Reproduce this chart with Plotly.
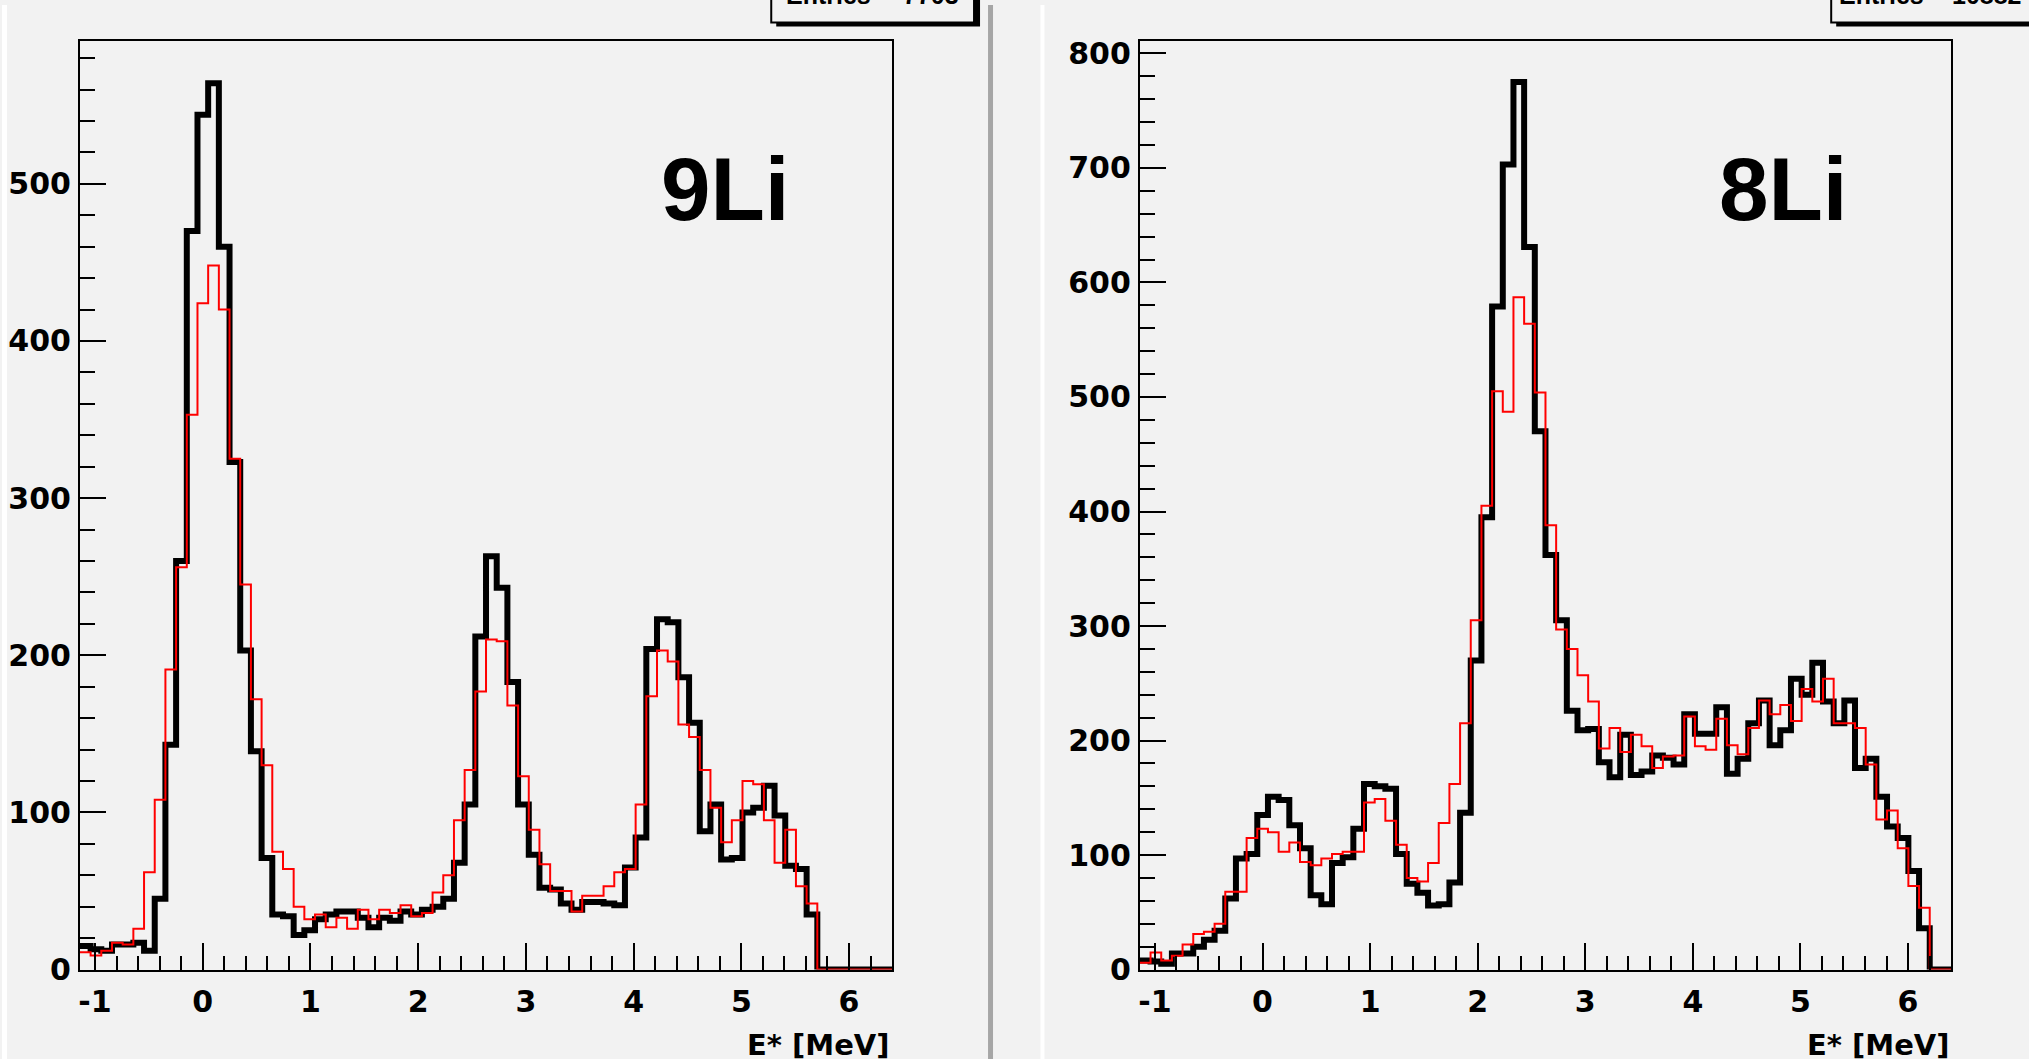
import numpy as np
import plotly.graph_objects as go

# ---------------- data ----------------
x_min, x_max, n_bins = -1.14, 6.40, 76

li9_black = [15, 13, 12, 16, 16, 17, 12, 45, 143, 260,
             470, 544, 564, 460, 323, 203, 139, 71, 35, 34,
             22, 25, 32, 35, 37, 37, 33, 27, 33, 31,
             37, 35, 38, 40, 45, 68, 105, 212, 263, 243,
             183, 105, 73, 52, 51, 42, 38, 43, 43, 42,
             41, 65, 84, 204, 223, 221, 186, 157, 88, 105,
             70, 71, 100, 103, 117, 98, 66, 64, 35, 0,
             0, 0, 0, 0, 0, 0]
li9_red = [11, 9, 12, 17, 16, 26, 62, 108, 191, 256,
           353, 424, 448, 420, 325, 245, 172, 130, 75, 64,
           40, 32, 35, 27, 33, 26, 38, 32, 38, 36,
           41, 34, 36, 49, 60, 95, 127, 177, 210, 209,
           168, 123, 89, 67, 50, 50, 37, 47, 47, 53,
           62, 64, 105, 174, 203, 196, 156, 148, 127, 103,
           81, 95, 120, 118, 95, 68, 89, 53, 42, 0,
           0, 0, 0, 0, 0, 0]
li8_black = [8, 7, 5, 14, 14, 20, 26, 34, 62, 97,
             101, 135, 151, 148, 126, 106, 65, 57, 93, 98,
             123, 162, 160, 158, 101, 75, 67, 56, 57, 76,
             137, 270, 395, 579, 703, 775, 631, 470, 362, 305,
             226, 209, 210, 181, 168, 205, 170, 173, 187, 185,
             179, 223, 206, 206, 229, 171, 184, 215, 235, 196,
             209, 254, 240, 268, 234, 215, 235, 176, 184, 151,
             125, 115, 86, 36, 0, 0]
li8_red = [6, 15, 8, 12, 22, 31, 33, 40, 68, 68,
           115, 123, 120, 103, 111, 94, 91, 97, 101, 103,
           103, 146, 149, 130, 109, 80, 77, 93, 128, 162,
           215, 305, 405, 505, 487, 587, 564, 504, 388, 297,
           280, 257, 234, 193, 211, 190, 205, 195, 176, 186,
           187, 221, 195, 192, 219, 196, 188, 211, 235, 223,
           231, 217, 245, 234, 254, 215, 215, 211, 179, 131,
           139, 106, 73, 54, 0, 0]

x_tick_vals = [-1, 0, 1, 2, 3, 4, 5, 6]
x_tick_text = ["-1", "0", "1", "2", "3", "4", "5", "6"]
y_max_left, y_max_right = 591, 811
panel_labels = ["9Li", "8Li"]
x_title = "E* [MeV]"
entries = ["7703", "10882"]

# ---------------- layout helpers ----------------
W, H = 2029, 1084
BG = "#f2f2f2"
def fx(p):
    return p / W
def fy(p):
    return 1 - p / H

edges = np.linspace(x_min, x_max, n_bins + 1)

fig = go.Figure()
for vals, col, lw, xa, ya in [
    (li9_black, "black", 6, "x", "y"),
    (li9_red, "#ff0000", 2, "x", "y"),
    (li8_black, "black", 6, "x2", "y2"),
    (li8_red, "#ff0000", 2, "x2", "y2"),
]:
    fig.add_trace(go.Scatter(
        x=edges, y=list(vals) + [vals[-1]], mode="lines",
        line=dict(color=col, width=lw, shape="hv"),
        xaxis=xa, yaxis=ya, hoverinfo="skip", showlegend=False))

tick_font = dict(family="DejaVu Sans", size=30, color="black", weight="bold")
common = dict(showline=True, linecolor="black", linewidth=2, mirror=True,
              ticks="inside", tickcolor="black", tickwidth=2,
              showgrid=False, zeroline=False, tickfont=tick_font)

ydom = [fy(985.5), fy(36.6)]
xaxis_common = dict(range=[x_min, x_max], tickmode="array", tickvals=x_tick_vals,
                    ticktext=x_tick_text, ticklen=27, ticklabelstandoff=4,
                    minor=dict(dtick=0.2, tick0=0, ticks="inside", ticklen=14,
                               tickwidth=2, tickcolor="black"), **common)
yaxis_common = dict(tick0=0, dtick=100, ticklen=26, ticklabelstandoff=1,
                    minor=dict(dtick=20, tick0=0, ticks="inside", ticklen=15,
                               tickwidth=2, tickcolor="black"), **common)

fig.update_layout(
    width=W, height=H, autosize=False, margin=dict(l=0, r=0, t=0, b=0, pad=0),
    paper_bgcolor=BG, plot_bgcolor=BG, showlegend=False,
    xaxis=dict(domain=[fx(78), fx(891)], anchor="y", **xaxis_common),
    yaxis=dict(domain=ydom, anchor="x", range=[0, y_max_left], **yaxis_common),
    xaxis2=dict(domain=[fx(1139), fx(1951)], anchor="y2", **xaxis_common),
    yaxis2=dict(domain=ydom, anchor="x2", range=[0, y_max_right], **yaxis_common),
)

shapes = []
for x0, x1 in [(770, 973), (1831, 2060)]:
    shapes.append(dict(type="rect", xref="paper", yref="paper",
                       x0=fx(x0 + 5), x1=fx(x1 + 6), y0=fy(22), y1=fy(-10),
                       fillcolor="black", line=dict(width=0)))
    shapes.append(dict(type="rect", xref="paper", yref="paper",
                       x0=fx(x0), x1=fx(x1), y0=fy(18), y1=fy(-10),
                       fillcolor=BG, line=dict(color="black", width=2)))
shapes.append(dict(type="line", xref="paper", yref="paper", x0=fx(989.5), x1=fx(989.5),
                   y0=0, y1=1, line=dict(color="#a6a6a6", width=5)))
shapes.append(dict(type="line", xref="paper", yref="paper", x0=fx(1041.5), x1=fx(1041.5),
                   y0=0, y1=1, line=dict(color="white", width=4)))
shapes.append(dict(type="rect", xref="paper", yref="paper", x0=0, x1=fx(5), y0=0, y1=1,
                   fillcolor="white", line=dict(width=0), layer="above"))
fig.update_layout(shapes=shapes)

ann = []
title_font = dict(family="Liberation Sans", size=89, color="black", weight="bold")
for txt, xc in zip(panel_labels, [724.6, 1783.5]):
    ann.append(dict(text=txt, x=fx(xc), y=fy(188), xref="paper", yref="paper",
                    xanchor="center", yanchor="middle", showarrow=False, font=title_font))
for xr in [890, 1951]:
    ann.append(dict(text=x_title, x=fx(xr), y=fy(1063), xref="paper", yref="paper",
                    xanchor="right", yanchor="middle", showarrow=False, borderpad=0,
                    font=dict(family="DejaVu Sans", size=29, color="black", weight="bold")))
stat_font = dict(family="Liberation Sans", size=25, color="black", weight="bold")
for (xl, xn), num in zip([(783, 960), (1837, 1950)], entries):
    ann.append(dict(text="Entries", x=fx(xl), y=fy(6), xref="paper", yref="paper",
                    xanchor="left", yanchor="bottom", showarrow=False, font=stat_font))
    ann.append(dict(text=num, x=fx(xn), y=fy(6), xref="paper", yref="paper",
                    xanchor="right" if xn < 1000 else "left", yanchor="bottom",
                    showarrow=False, font=stat_font))
fig.update_layout(annotations=ann)

fig.write_html("out.html", config={"displayModeBar": False, "responsive": False})
